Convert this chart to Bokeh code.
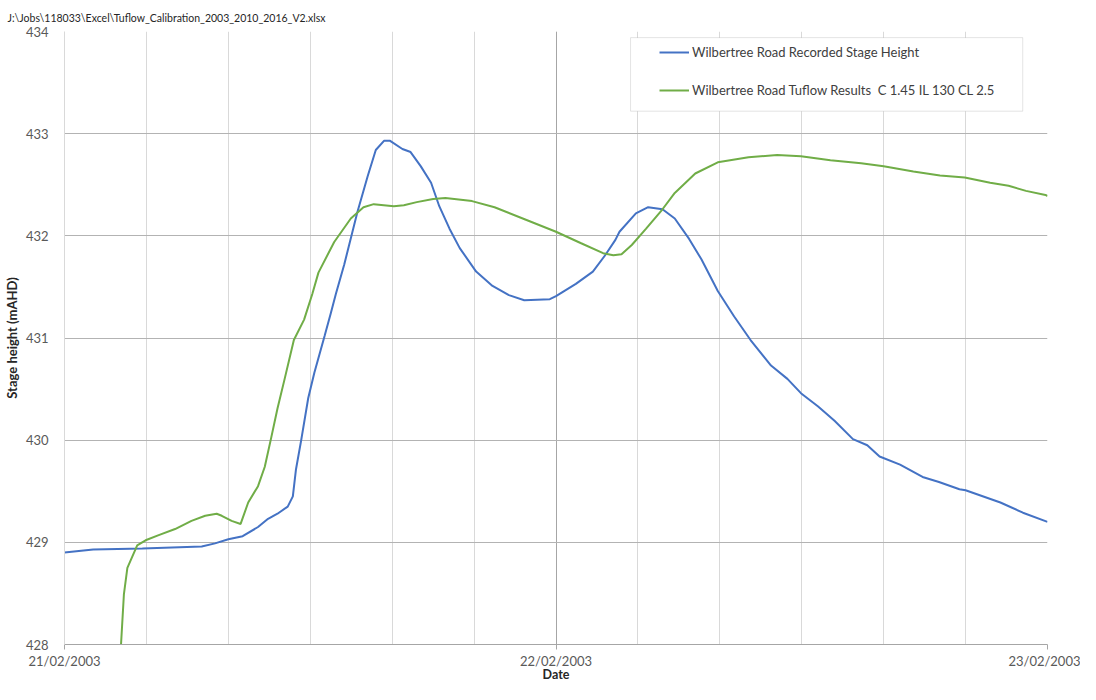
from bokeh.plotting import figure
from bokeh.models import FixedTicker, Legend, LegendItem, Range1d, BoxAnnotation
from bokeh.embed import file_html
from bokeh.resources import INLINE

# Hours after 21/02/2003 00:00
recorded_hours = [0, 1.4, 3.8, 6.7, 7.35, 8.0, 8.7, 9.45, 9.94, 10.4, 10.9, 11.15, 11.3,
                  11.55, 11.9, 12.2, 12.7, 13.0, 13.25, 13.66, 14.3, 14.8, 15.2, 15.6,
                  15.9, 16.5, 16.9, 17.4, 17.9, 18.3, 18.8, 19.3, 20.1, 20.9, 21.7, 22.45,
                  23.7, 24.0, 24.97, 25.8, 26.4, 26.9, 27.1, 27.9, 28.5, 29.2, 29.8, 30.5,
                  31.1, 31.9, 32.7, 33.5, 34.5, 35.3, 35.96, 36.8, 37.6, 38.5, 39.2, 39.8,
                  40.8, 41.9, 42.7, 43.7, 44.0, 45.7, 46.8, 48.0]
recorded_stage = [428.90, 428.93, 428.94, 428.96, 428.99, 429.03, 429.06, 429.15, 429.23,
                  429.28, 429.35, 429.45, 429.71, 429.99, 430.41, 430.66, 431.02, 431.24,
                  431.43, 431.72, 432.23, 432.58, 432.84, 432.93, 432.93, 432.85, 432.82,
                  432.68, 432.52, 432.29, 432.07, 431.88, 431.65, 431.51, 431.42, 431.37,
                  431.38, 431.41, 431.53, 431.65, 431.81, 431.96, 432.04, 432.22, 432.28,
                  432.26, 432.17, 431.97, 431.77, 431.46, 431.21, 430.98, 430.73, 430.60,
                  430.46, 430.33, 430.19, 430.01, 429.95, 429.84, 429.76, 429.64, 429.59,
                  429.52, 429.51, 429.39, 429.29, 429.20]

tuflow_hours = [2.76, 2.9, 3.07, 3.55, 3.96, 4.6, 5.4, 6.2, 6.87, 7.43, 7.68, 8.16, 8.6,
                8.97, 9.45, 9.78, 10.1, 10.4, 10.75, 11.2, 11.7, 12.1, 12.4, 13.17, 13.98,
                14.6, 15.1, 16.08, 16.57, 17.2, 18.0, 18.6, 19.9, 21.0, 22.5, 24.0, 25.2,
                26.3, 26.8, 27.2, 27.7, 28.4, 29.2, 29.8, 30.8, 31.9, 33.4, 34.8, 35.96,
                37.4, 38.9, 40.0, 41.45, 42.75, 43.96, 45.2, 46.1, 46.95, 47.9, 48.0]
tuflow_stage = [428.00, 428.49, 428.75, 428.97, 429.02, 429.07, 429.13, 429.21, 429.26,
                429.28, 429.26, 429.21, 429.18, 429.39, 429.55, 429.74, 430.03, 430.31,
                430.60, 430.98, 431.18, 431.43, 431.64, 431.94, 432.17, 432.28, 432.31,
                432.29, 432.30, 432.33, 432.36, 432.37, 432.34, 432.28, 432.16, 432.04,
                431.93, 431.83, 431.81, 431.82, 431.91, 432.07, 432.26, 432.42, 432.61,
                432.72, 432.77, 432.79, 432.78, 432.74, 432.71, 432.68, 432.63, 432.59,
                432.57, 432.52, 432.49, 432.44, 432.40, 432.39]

x_tick_hours = [0, 24, 48]
x_tick_labels = ["21/02/2003", "22/02/2003", "23/02/2003"]
x_minor_hours = [0, 4, 8, 12, 16, 20, 24, 28, 32, 36, 40, 44, 48]
y_ticks = [428, 429, 430, 431, 432, 433, 434]

series_labels = ["Wilbertree Road Recorded Stage Height",
                 "Wilbertree Road Tuflow Results  C 1.45 IL 130 CL 2.5"]
file_title = "J:\\Jobs\\118033\\Excel\\Tuflow_Calibration_2003_2010_2016_V2.xlsx"

FONT = "Lato"

p = figure(width=1080, height=684, output_backend="svg", toolbar_location=None,
           x_range=Range1d(0, 48), y_range=Range1d(428, 434),
           min_border_left=57, min_border_right=33, min_border_top=31,
           min_border_bottom=0)
p.outline_line_color = None
p.background_fill_color = "white"
p.border_fill_color = "white"

p.title.text = file_title
p.title.text_font = FONT
p.title.text_font_size = "10.5px"
p.title.text_font_style = "normal"
p.title.text_color = "#262626"
p.title.align = "left"
p.title.offset = -57
p.title.standoff = 15

# X axis
p.xaxis.ticker = FixedTicker(ticks=x_tick_hours, minor_ticks=x_minor_hours)
p.xaxis.major_label_overrides = {h: l for h, l in zip(x_tick_hours, x_tick_labels)}
p.xaxis.axis_label = "Date"
p.xaxis.axis_label_text_font = FONT
p.xaxis.axis_label_text_font_style = "bold"
p.xaxis.axis_label_text_font_size = "12.5px"
p.xaxis.axis_label_text_color = "#262626"
p.xaxis.axis_label_standoff = -5
p.xaxis.major_label_text_font = FONT
p.xaxis.major_label_text_font_size = "13px"
p.xaxis.major_label_text_color = "#595959"
p.xaxis.major_label_standoff = 3
p.xaxis.axis_line_color = "#a6a6a6"
p.xaxis.major_tick_line_color = "#a6a6a6"
p.xaxis.major_tick_in = 0
p.xaxis.major_tick_out = 5
p.xaxis.minor_tick_line_color = None

# Y axis
p.yaxis.ticker = FixedTicker(ticks=y_ticks)
p.yaxis.axis_label = "Stage height (mAHD)"
p.yaxis.axis_label_text_font = FONT
p.yaxis.axis_label_text_font_style = "bold"
p.yaxis.axis_label_text_font_size = "13px"
p.yaxis.axis_label_text_color = "#262626"
p.yaxis.axis_label_standoff = 3
p.yaxis.major_label_text_font = FONT
p.yaxis.major_label_text_font_size = "13px"
p.yaxis.major_label_text_color = "#595959"
p.yaxis.major_label_standoff = 10
p.yaxis.axis_line_color = "#d9d9d9"
p.yaxis.major_tick_line_color = None
p.yaxis.minor_tick_line_color = None

# Grids
p.xgrid.grid_line_color = "#a6a6a6"
p.xgrid.minor_grid_line_color = "#d9d9d9"
p.ygrid.grid_line_color = "#b3b3b3"

r1 = p.line(recorded_hours, recorded_stage, line_color="#4472C4", line_width=2)
r2 = p.line(tuflow_hours, tuflow_stage, line_color="#70AD47", line_width=2)

# legend frame
p.add_layout(BoxAnnotation(left=27.64, right=46.79, top=433.94, bottom=433.22,
                           fill_color="white", fill_alpha=1,
                           line_color="#a6a6a6", line_width=1, level="overlay"))

legend = Legend(items=[LegendItem(label=series_labels[0], renderers=[r1]),
                       LegendItem(label=series_labels[1], renderers=[r2])],
                location=(595, 544))
legend.label_text_font = FONT
legend.label_text_font_size = "13px"
legend.label_text_color = "#404040"
legend.border_line_color = None
legend.background_fill_alpha = 0
legend.padding = 0
legend.spacing = 18
legend.glyph_width = 30
legend.glyph_height = 20
legend.label_height = 20
legend.label_standoff = 3
legend.margin = 0
p.add_layout(legend)

open("out.html", "w").write(file_html(p, INLINE))
